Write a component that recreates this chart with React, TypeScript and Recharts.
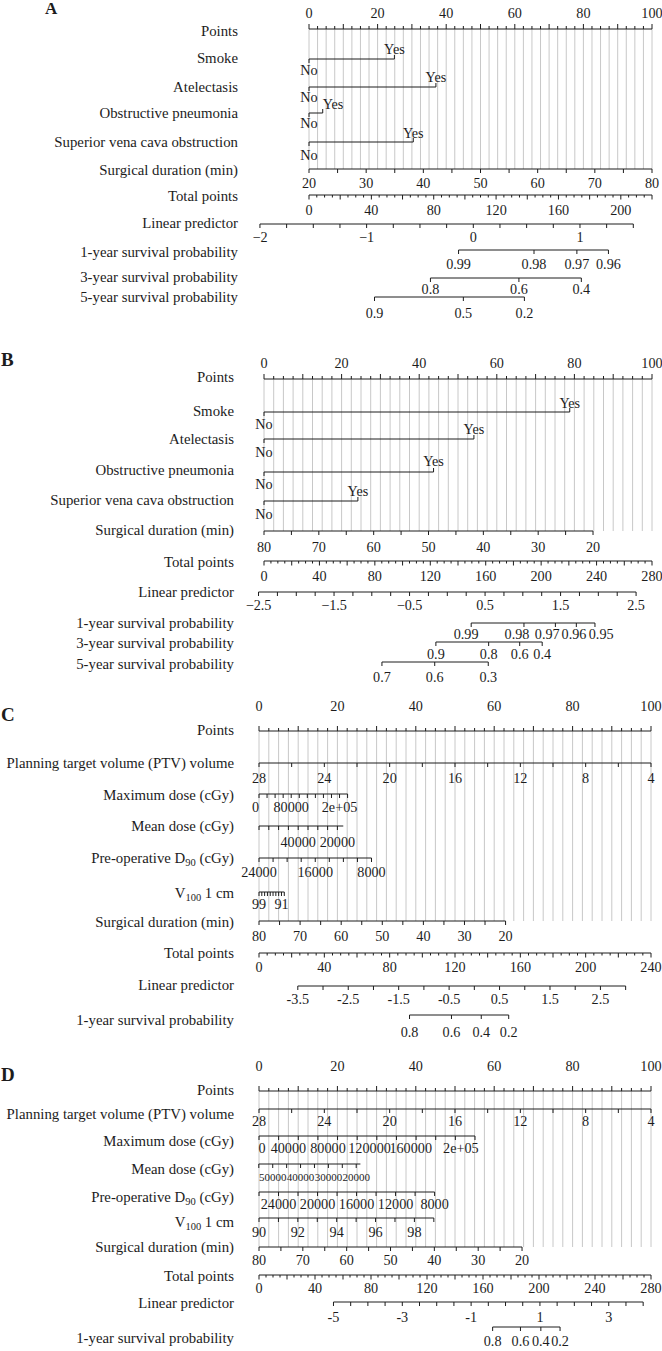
import React from 'react';
import { ComposedChart, XAxis, YAxis, Scatter, ReferenceLine } from 'recharts';

const FONT = '"Liberation Serif", "Times New Roman", serif';
const INK = '#1c1c1c';
const GRID = '#c8c8c8';
const WIDTH = 662;
const NAME_SIZE = 14.8;
const TICK_SIZE = 14.2;

type Cal = [[number, number], [number, number]];
type Mark = [number, number];

const range = (a: number, b: number, step: number) =>
  Array.from({ length: Math.round((b - a) / step) + 1 }, (_, i) => +(a + i * step).toFixed(6));
const lin = (c: Cal) => (v: number) => c[0][1] + ((v - c[0][0]) * (c[1][1] - c[0][1])) / (c[1][0] - c[0][0]);

// shared points axis
const pointTicks = range(0, 100, 2.5);
const pointLabels = [0, 20, 40, 60, 80, 100];
const gridAt = range(0, 100, 2.5);

// ---- panel A (points for "Yes"; "No" sits at 0)
const smokeA = 24.9;
const atelectasisA = 37.0;
const obstructiveA = 4.0;
const svcA = 30.4;
const durationA: Cal = [[20, 0], [80, 100]];
const totalA: Cal = [[0, 0], [220, 100]];
const lpA: Cal = [[-2, -14.3], [1, 79.0]];
const surv1A: Mark[] = [[0.99, 43.6], [0.98, 65.6], [0.97, 78.1], [0.96, 87.3]];
const surv3A: Mark[] = [[0.8, 35.4], [0.6, 61.2], [0.4, 79.4]];
const surv5A: Mark[] = [[0.9, 19.1], [0.5, 45.0], [0.2, 62.8]];

// ---- panel B
const smokeB = 78.8;
const atelectasisB = 54.1;
const obstructiveB = 43.7;
const svcB = 24.2;
const durationB: Cal = [[80, 0], [20, 84.8]];
const totalB: Cal = [[0, 0], [280, 100]];
const lpB: Cal = [[-2.5, -1.41], [2.5, 95.9]];
const surv1B: Mark[] = [[0.99, 53.4], [0.98, 67.0], [0.97, 75.1], [0.96, 80.5], [0.95, 85.3]];
const surv1BLabelAt = [52.1, 65.2, 73.0, 79.9, 86.9];
const surv3B: Mark[] = [[0.9, 44.3], [0.8, 57.9], [0.6, 65.9], [0.4, 71.7]];
const surv5B: Mark[] = [[0.7, 30.4], [0.6, 44.0], [0.3, 57.8]];

// ---- panel C
const ptvC: Cal = [[28, 0], [4, 100]];
const maxDoseC: Cal = [[0, 0], [220000, 22.6]];
const meanDoseC: Cal = [[40000, 10], [20000, 20]];
const d90C: Cal = [[24000, 0], [8000, 28.7]];
const v100C: Cal = [[99, 0], [90, 6.45]];
const durationC: Cal = [[80, 0], [20, 62.9]];
const totalC: Cal = [[0, 0], [240, 100]];
const lpC: Cal = [[-3.5, 9.9], [2.5, 87.1]];
const surv1C: Mark[] = [[0.8, 38.4], [0.6, 49.1], [0.4, 56.7], [0.2, 63.7]];

// ---- panel D
const ptvD: Cal = [[28, 0], [4, 100]];
const maxDoseD: Cal = [[0, 0], [220000, 55.1]];
const maxDoseDLabelAt = [0.8, 7.5, 17.6, 28.2, 38.7, 51.5];
const meanDoseD: Cal = [[50000, 3.5], [20000, 24.8]];
const d90D: Cal = [[26000, 0], [8000, 44.8]];
const v100D: Cal = [[90, 0], [99, 44.6]];
const durationD: Cal = [[80, 0], [20, 67.1]];
const totalD: Cal = [[0, 0], [280, 100]];
const lpD: Cal = [[-5, 19.0], [4, 98.0]];
const surv1D: Mark[] = [[0.8, 59.6], [0.6, 66.7], [0.4, 71.9], [0.2, 76.8]];

type Row = {
  kind: 'points' | 'level' | 'scale' | 'prob';
  name: string[];
  y: number;
  nameY?: number;
  labY?: number;
  yes?: number;
  yesY?: number;
  noY?: number;
  yesAnchor?: string;
  cal?: Cal;
  line?: [number, number];
  ticks?: number[];
  labels?: number[];
  majorEvery?: number;
  text?: Record<string, string>;
  anchors?: Record<string, string>;
  size?: number;
  minus?: string;
  marks?: Mark[];
  labAt?: number[];
};

type Panel = {
  letter: string;
  letterStyle: React.CSSProperties;
  top: number;
  height: number;
  p0: number;
  p100: number;
  left: number;
  grid: [number, number];
  rows: Row[];
};

const fmt = (v: number, minus = '−') => (v < 0 ? minus + String(-v) : String(v));
const SURV1 = ['1-year survival probability'];
const SURV3 = ['3-year survival probability'];
const SURV5 = ['5-year survival probability'];

const panels: Panel[] = [
  {
    letter: 'A', letterStyle: { left: 45, top: 0, fontSize: 17 },
    top: 0, height: 340, p0: 309, p100: 652, left: 238, grid: [29, 169],
    rows: [
      { kind: 'points', name: ['Points'], y: 29, nameY: 31, labY: 13 },
      { kind: 'level', name: ['Smoke'], y: 59, nameY: 58, yes: smokeA, yesY: 49, noY: 70 },
      { kind: 'level', name: ['Atelectasis'], y: 87, yes: atelectasisA, yesY: 77, noY: 97 },
      { kind: 'level', name: ['Obstructive pneumonia'], y: 113, yes: obstructiveA, yesY: 104, noY: 123, yesAnchor: 'start' },
      { kind: 'level', name: ['Superior vena cava obstruction'], y: 142, yes: svcA, yesY: 133, noY: 155 },
      { kind: 'scale', name: ['Surgical duration (min)'], y: 169, nameY: 170, labY: 183, cal: durationA, line: [20, 80], ticks: range(20, 80, 5), labels: range(20, 80, 10) },
      { kind: 'scale', name: ['Total points'], y: 195, nameY: 196, labY: 210, cal: totalA, line: [0, 220], ticks: range(0, 220, 5), majorEvery: 20, labels: range(0, 200, 40) },
      { kind: 'scale', name: ['Linear predictor'], y: 224, nameY: 223, labY: 237, cal: lpA, line: [-2, 1.5], ticks: range(-2, 1.5, 0.25), labels: [-2, -1, 0, 1] },
      { kind: 'prob', name: SURV1, y: 250, nameY: 252, labY: 264, marks: surv1A },
      { kind: 'prob', name: SURV3, y: 278, nameY: 277, labY: 289, marks: surv3A },
      { kind: 'prob', name: SURV5, y: 297, labY: 313, marks: surv5A },
    ],
  },
  {
    letter: 'B', letterStyle: { left: 1, top: 10, fontSize: 19 },
    top: 340, height: 350, p0: 264, p100: 652, left: 234, grid: [379, 531],
    rows: [
      { kind: 'points', name: ['Points'], y: 379, nameY: 377, labY: 363 },
      { kind: 'level', name: ['Smoke'], y: 412, nameY: 411, yes: smokeB, yesY: 403, noY: 424 },
      { kind: 'level', name: ['Atelectasis'], y: 439, yes: atelectasisB, yesY: 429, noY: 452 },
      { kind: 'level', name: ['Obstructive pneumonia'], y: 472, nameY: 470, yes: obstructiveB, yesY: 461, noY: 484 },
      { kind: 'level', name: ['Superior vena cava obstruction'], y: 501, nameY: 500, yes: svcB, yesY: 491, noY: 514 },
      { kind: 'scale', name: ['Surgical duration (min)'], y: 531, nameY: 530, labY: 547, cal: durationB, line: [80, 20], ticks: range(80, 20, -5), labels: range(80, 20, -10) },
      { kind: 'scale', name: ['Total points'], y: 561, nameY: 562, labY: 576, cal: totalB, line: [0, 280], ticks: range(0, 280, 5), majorEvery: 20, labels: range(0, 280, 40) },
      { kind: 'scale', name: ['Linear predictor'], y: 592, labY: 605, cal: lpB, line: [-2.5, 2.5], ticks: range(-2.5, 2.5, 0.25), labels: range(-2.5, 2.5, 1) },
      { kind: 'prob', name: SURV1, y: 623, labY: 634, marks: surv1B, labAt: surv1BLabelAt },
      { kind: 'prob', name: SURV3, y: 642, nameY: 643, labY: 654, marks: surv3B },
      { kind: 'prob', name: SURV5, y: 662, nameY: 664, labY: 677, marks: surv5B },
    ],
  },
  {
    letter: 'C', letterStyle: { left: 1, top: 15, fontSize: 19 },
    top: 690, height: 350, p0: 259, p100: 651, left: 234, grid: [731, 921],
    rows: [
      { kind: 'points', name: ['Points'], y: 731, nameY: 730, labY: 706 },
      { kind: 'scale', name: ['Planning target volume (PTV) volume'], y: 763, labY: 778, cal: ptvC, line: [28, 4], ticks: range(28, 4, -2), labels: range(28, 4, -4) },
      { kind: 'scale', name: ['Maximum dose (cGy)'], y: 794, nameY: 795, labY: 807, cal: maxDoseC, line: [0, 220000], ticks: range(0, 220000, 20000), labels: [0, 80000, 200000], text: { '200000': '2e+05' }, anchors: { '0': 'end' } },
      { kind: 'scale', name: ['Mean dose (cGy)'], y: 826, labY: 842, cal: meanDoseC, line: [60000, 17000], ticks: range(60000, 20000, -5000), labels: [40000, 20000] },
      { kind: 'scale', name: ['Pre-operative D', '90', ' (cGy)'], y: 858, labY: 872, cal: d90C, line: [24000, 8000], ticks: range(24000, 8000, -2000), labels: [24000, 16000, 8000] },
      { kind: 'scale', name: ['V', '100', ' 1 cm'], y: 892, nameY: 893, labY: 904, cal: v100C, line: [99, 90], ticks: range(99, 90, -1), labels: [99, 91] },
      { kind: 'scale', name: ['Surgical duration (min)'], y: 921, nameY: 922, labY: 936, cal: durationC, line: [80, 20], ticks: range(80, 20, -5), labels: range(80, 20, -10) },
      { kind: 'scale', name: ['Total points'], y: 953, labY: 967, cal: totalC, line: [0, 240], ticks: range(0, 240, 5), majorEvery: 20, labels: range(0, 240, 40) },
      { kind: 'scale', name: ['Linear predictor'], y: 986, nameY: 985, labY: 999, cal: lpC, line: [-3.5, 3], ticks: range(-3.5, 3, 0.5), labels: range(-3.5, 2.5, 1), minus: '-' },
      { kind: 'prob', name: SURV1, y: 1015, nameY: 1020, labY: 1032, marks: surv1C },
    ],
  },
  {
    letter: 'D', letterStyle: { left: 1, top: 25, fontSize: 19 },
    top: 1040, height: 311, p0: 259, p100: 651, left: 234, grid: [1091, 1247],
    rows: [
      { kind: 'points', name: ['Points'], y: 1091, nameY: 1090, labY: 1066 },
      { kind: 'scale', name: ['Planning target volume (PTV) volume'], y: 1109, nameY: 1114, labY: 1121, cal: ptvD, line: [28, 4], ticks: range(28, 4, -2), labels: range(28, 4, -4) },
      { kind: 'scale', name: ['Maximum dose (cGy)'], y: 1136, nameY: 1141, labY: 1148, cal: maxDoseD, line: [0, 220000], ticks: range(0, 220000, 20000), labels: range(0, 200000, 40000), labAt: maxDoseDLabelAt, text: { '200000': '2e+05' } },
      { kind: 'scale', name: ['Mean dose (cGy)'], y: 1164, nameY: 1169, labY: 1177, cal: meanDoseD, line: [55000, 18500], ticks: range(55000, 20000, -5000), labels: [50000, 40000, 30000, 20000], size: 11 },
      { kind: 'scale', name: ['Pre-operative D', '90', ' (cGy)'], y: 1192, nameY: 1197, labY: 1204, cal: d90D, line: [26000, 8000], ticks: range(26000, 8000, -2000), labels: range(24000, 8000, -4000) },
      { kind: 'scale', name: ['V', '100', ' 1 cm'], y: 1218, nameY: 1222, labY: 1232, cal: v100D, line: [90, 99], ticks: range(90, 99, 1), labels: range(90, 98, 2) },
      { kind: 'scale', name: ['Surgical duration (min)'], y: 1247, labY: 1260, cal: durationD, line: [80, 20], ticks: range(80, 20, -5), labels: range(80, 20, -10) },
      { kind: 'scale', name: ['Total points'], y: 1275, nameY: 1276, labY: 1288, cal: totalD, line: [0, 280], ticks: range(0, 280, 5), majorEvery: 20, labels: range(0, 280, 40) },
      { kind: 'scale', name: ['Linear predictor'], y: 1302, nameY: 1303, labY: 1317, cal: lpD, line: [-5, 4], ticks: range(-5, 4, 0.5), labels: range(-5, 3, 2), minus: '-' },
      { kind: 'prob', name: SURV1, y: 1327, nameY: 1338, labY: 1341, marks: surv1D },
    ],
  },
];

type Seg = { x1: number; x2: number; y: number };
type TickPt = { x: number; y: number; len: number };
type LabelPt = { x: number; y: number; text: string; anchor?: string; size?: number };

function build(rows: Row[]) {
  const segs: Seg[] = [];
  const ticks: TickPt[] = [];
  const labels: LabelPt[] = [];
  const names: { y: number; parts: string[] }[] = [];
  for (const r of rows) {
    names.push({ y: r.nameY ?? r.y, parts: r.name });
    if (r.kind === 'points') {
      segs.push({ x1: 0, x2: 100, y: r.y });
      pointTicks.forEach((v) => ticks.push({ x: v, y: r.y, len: v % 10 === 0 ? -5 : -3 }));
      pointLabels.forEach((v) => labels.push({ x: v, y: r.labY!, text: String(v) }));
    } else if (r.kind === 'level') {
      segs.push({ x1: 0, x2: r.yes!, y: r.y });
      ticks.push({ x: 0, y: r.y, len: 4 }, { x: r.yes!, y: r.y, len: -4 });
      labels.push({ x: 0, y: r.noY!, text: 'No' }, { x: r.yes!, y: r.yesY!, text: 'Yes', anchor: r.yesAnchor });
    } else if (r.kind === 'scale') {
      const f = lin(r.cal!);
      segs.push({ x1: f(r.line![0]), x2: f(r.line![1]), y: r.y });
      r.ticks!.forEach((v) => {
        const major = r.majorEvery ? Math.abs(v % r.majorEvery) < 1e-6 : true;
        ticks.push({ x: f(v), y: r.y, len: r.majorEvery ? (major ? 4.5 : 2.5) : 4 });
      });
      r.labels!.forEach((v, i) =>
        labels.push({
          x: r.labAt?.[i] ?? f(v),
          y: r.labY!,
          text: r.text?.[String(v)] ?? fmt(v, r.minus),
          anchor: r.anchors?.[String(v)],
          size: r.size,
        })
      );
    } else {
      const xs = r.marks!.map((m) => m[1]);
      segs.push({ x1: Math.min(...xs), x2: Math.max(...xs), y: r.y });
      r.marks!.forEach(([v, p], i) => {
        ticks.push({ x: p, y: r.y, len: 4 });
        labels.push({ x: r.labAt?.[i] ?? p, y: r.labY!, text: String(v) });
      });
    }
  }
  return { segs, ticks, labels, names };
}

const TickShape = (p: any) => (
  <line x1={p.cx} y1={p.cy} x2={p.cx} y2={p.cy + p.payload.len} stroke={INK} strokeWidth={1} />
);

const LabelShape = (p: any) => {
  const d = p.payload as LabelPt;
  return (
    <text
      x={p.cx}
      y={p.cy}
      textAnchor={d.anchor ?? 'middle'}
      dominantBaseline="central"
      fontFamily={FONT}
      fontSize={d.size ?? TICK_SIZE}
      fill={INK}
    >
      {d.text}
    </text>
  );
};

function RowName(props: any) {
  const { x, y, payload, names } = props;
  const row = names.find((n: any) => Math.abs(n.y - payload.value) < 0.01);
  if (!row) return null;
  return (
    <text x={x} y={y} textAnchor="end" dominantBaseline="central" fontFamily={FONT} fontSize={NAME_SIZE} fill={INK}>
      {row.parts.map((part: string, i: number) =>
        i % 2 === 1 ? (
          <tspan key={i} fontSize={10.5} dy={4}>{part}</tspan>
        ) : (
          <tspan key={i} dy={i > 0 ? -4 : 0}>{part}</tspan>
        )
      )}
    </text>
  );
}

function NomogramPanel({ cfg }: { cfg: Panel }) {
  const { segs, ticks, labels, names } = build(cfg.rows);
  const ppt = (cfg.p100 - cfg.p0) / 100;
  const xMin = -(cfg.p0 - cfg.left) / ppt;
  const xMax = xMin + (WIDTH - cfg.left) / ppt;
  return (
    <div style={{ position: 'relative', width: WIDTH, height: cfg.height }}>
      <div
        style={{
          position: 'absolute',
          fontFamily: FONT,
          fontWeight: 'bold',
          lineHeight: 1,
          color: INK,
          ...cfg.letterStyle,
        }}
      >
        {cfg.letter}
      </div>
      <ComposedChart width={WIDTH} height={cfg.height} margin={{ top: 0, right: 0, bottom: 0, left: 0 }}>
        <XAxis type="number" dataKey="x" scale="linear" domain={[xMin, xMax]} allowDataOverflow hide />
        <YAxis
          type="number"
          dataKey="y"
          scale="linear"
          domain={[cfg.top, cfg.top + cfg.height]}
          allowDataOverflow
          reversed
          width={cfg.left}
          ticks={names.map((n) => n.y)}
          interval={0}
          axisLine={false}
          tickLine={false}
          tickSize={0}
          tickMargin={0}
          tick={(p: any) => <RowName {...p} names={names} />}
        />
        {gridAt.map((g) => (
          <ReferenceLine
            key={`g${g}`}
            segment={[{ x: g, y: cfg.grid[0] }, { x: g, y: cfg.grid[1] }]}
            stroke={GRID}
            strokeWidth={1}
          />
        ))}
        {segs.map((s, i) => (
          <ReferenceLine
            key={`s${i}`}
            segment={[{ x: s.x1, y: s.y }, { x: s.x2, y: s.y }]}
            stroke={INK}
            strokeWidth={1}
          />
        ))}
        <Scatter data={ticks} shape={TickShape} isAnimationActive={false} />
        <Scatter data={labels} shape={LabelShape} isAnimationActive={false} />
      </ComposedChart>
    </div>
  );
}

export default function App() {
  return (
    <div style={{ width: WIDTH, background: '#fff' }}>
      <style>{'body{margin:0;background:#fff}'}</style>
      {panels.map((p) => (
        <NomogramPanel key={p.letter} cfg={p} />
      ))}
    </div>
  );
}
